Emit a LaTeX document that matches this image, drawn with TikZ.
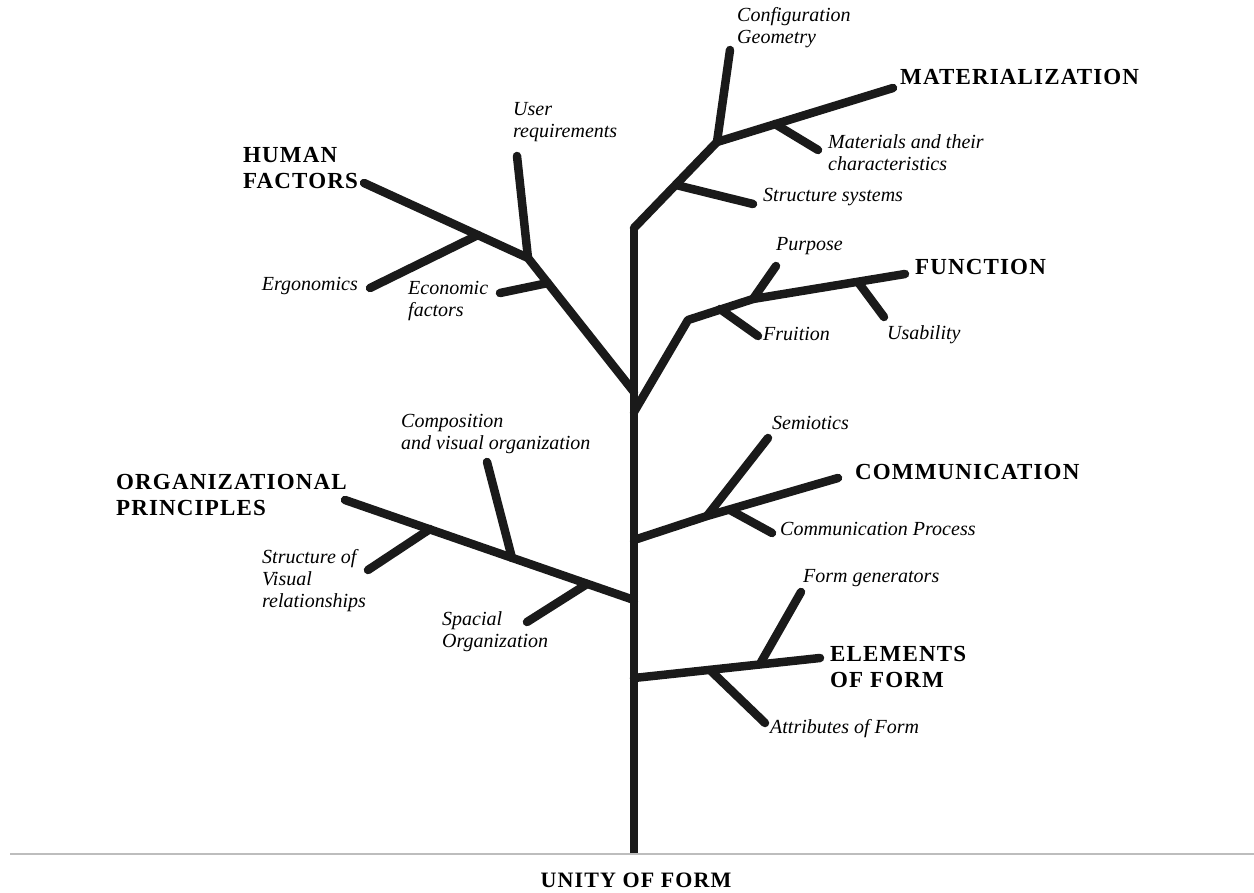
\documentclass[tikz,border=0pt]{standalone}
\usepackage{fontspec}
\setmainfont{Liberation Serif}
\newfontfamily\fontegrupo[LetterSpace=5]{Liberation Serif}
\definecolor{cor_galho}{HTML}{1A1A1A}
\definecolor{cor_chao}{HTML}{BDBDBD}

\begin{document}
\begin{tikzpicture}[x=1pt,y=-1pt]
        \tikzset{
            galho/.style={
                draw=cor_galho,
                line width=8.5pt,
                line cap=round,
                line join=round
            },
            ramo/.style={
                font=\fontsize{20}{22}\selectfont\itshape,
                inner sep=0pt,
                align=left,
                anchor=north west
            },
            grupo/.style={
                font=\fontegrupo\fontsize{23}{26}\selectfont\bfseries,
                inner sep=0pt,
                align=left,
                anchor=north west
            }
        }
        \useasboundingbox (0,0) rectangle (1254,893);

        % CHAO E TRONCO
        \coordinate (chao_e) at (10,854);
        \coordinate (chao_d) at (1254,854);
        \coordinate (tronco_base) at (634,853);
        \coordinate (tronco_topo) at (634,228);
        \draw[cor_chao, line width=2.5pt] (chao_e) -- (chao_d);
        \draw[galho, line cap=butt] (tronco_base) -- (tronco_topo);

        % MATERIALIZATION
        \coordinate (mat_a) at (717,142);
        \coordinate (mat_fim) at (893,88);
        \coordinate (mat_b) at (775,124);
        \coordinate (mat_c) at (676,185);
        \draw[galho] (tronco_topo) -- (mat_a) -- (mat_fim);
        \draw[galho] (mat_a) -- (730,50);
        \draw[galho] (mat_b) -- (818,150);
        \draw[galho] (mat_c) -- (753,204);

        % HUMAN FACTORS
        \coordinate (hum_0) at (634,392);
        \coordinate (hum_a) at (528,258);
        \coordinate (hum_fim) at (364,183);
        \coordinate (hum_b) at (478,235);
        \coordinate (hum_c) at (548,283);
        \draw[galho] (hum_0) -- (hum_a) -- (hum_fim);
        \draw[galho] (hum_a) -- (517,156);
        \draw[galho] (hum_b) -- (370,288);
        \draw[galho] (hum_c) -- (500,293);

        % FUNCTION
        \coordinate (fun_0) at (634,412);
        \coordinate (fun_a) at (688,320);
        \coordinate (fun_b) at (753,299);
        \coordinate (fun_fim) at (905,274);
        \coordinate (fun_c) at (720,309);
        \coordinate (fun_d) at (858,282);
        \draw[galho] (fun_0) -- (fun_a) -- (fun_b) -- (fun_fim);
        \draw[galho] (fun_b) -- (776,266);
        \draw[galho] (fun_c) -- (758,336);
        \draw[galho] (fun_d) -- (884,317);

        % ORGANIZATIONAL PRINCIPLES
        \coordinate (org_0) at (634,600);
        \coordinate (org_fim) at (345,500);
        \coordinate (org_a) at (430,529);
        \coordinate (org_b) at (512,558);
        \coordinate (org_c) at (587,584);
        \draw[galho] (org_0) -- (org_fim);
        \draw[galho] (org_a) -- (368,570);
        \draw[galho] (org_b) -- (487,462);
        \draw[galho] (org_c) -- (527,622);

        % COMMUNICATION
        \coordinate (com_0) at (634,540);
        \coordinate (com_a) at (707,516);
        \coordinate (com_fim) at (838,478);
        \coordinate (com_b) at (730,510);
        \draw[galho] (com_0) -- (com_a) -- (com_fim);
        \draw[galho] (com_a) -- (768,438);
        \draw[galho] (com_b) -- (772,533);

        % ELEMENTS OF FORM
        \coordinate (ele_0) at (634,678);
        \coordinate (ele_fim) at (820,658);
        \coordinate (ele_a) at (710,670);
        \coordinate (ele_b) at (760,664);
        \draw[galho] (ele_0) -- (ele_fim);
        \draw[galho] (ele_a) -- (765,723);
        \draw[galho] (ele_b) -- (801,592);

        % TEXTOS
        \node[grupo] (materialization) at (900,69) {MATERIALIZATION};
        \node[ramo] (configuration) at (737,7) {Configuration\\Geometry};
        \node[ramo] (materials) at (828,134) {Materials and their\\characteristics};
        \node[ramo] (structure) at (763,188) {Structure systems};

        \node[grupo] (human) at (243,147) {HUMAN\\FACTORS};
        \node[ramo] (user) at (513,102) {User\\requirements};
        \node[ramo, anchor=north east] (ergonomics) at (358,277) {Ergonomics};
        \node[ramo] (economic) at (408,281) {Economic\\factors};

        \node[grupo] (function) at (915,259) {FUNCTION};
        \node[ramo] (purpose) at (776,237) {Purpose};
        \node[ramo] (fruition) at (763,327) {Fruition};
        \node[ramo] (usability) at (887,325) {Usability};

        \node[grupo] (organizational) at (116,474) {ORGANIZATIONAL\\PRINCIPLES};
        \node[ramo] (composition) at (401,414) {Composition\\and visual organization};
        \node[ramo] (visual) at (262,549) {Structure of\\Visual\\relationships};
        \node[ramo] (spacial) at (442,611) {Spacial\\Organization};

        \node[grupo] (communication) at (855,464) {COMMUNICATION};
        \node[ramo] (semiotics) at (772,416) {Semiotics};
        \node[ramo] (process) at (780,522) {Communication Process};

        \node[grupo] (elements) at (830,646) {ELEMENTS\\OF FORM};
        \node[ramo] (generators) at (803,569) {Form generators};
        \node[ramo] (attributes) at (770,719) {Attributes of Form};

        \node[font=\fontegrupo\fontsize{22}{24}\selectfont\bfseries, inner sep=0pt] (unity) at (636,880) {UNITY OF FORM};

    \end{tikzpicture}
\end{document}
